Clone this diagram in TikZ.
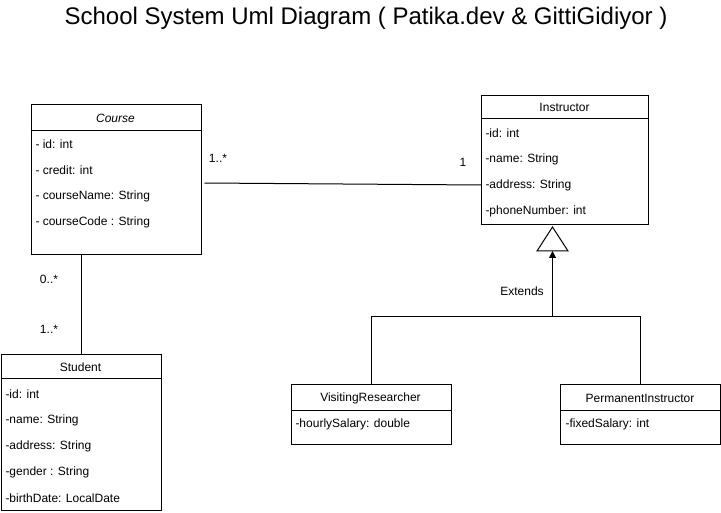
\documentclass[tikz,border=0pt]{standalone}
\usepackage{fontspec}
\setmainfont{Liberation Sans}
\usetikzlibrary{arrows.meta}

\tikzset{
  classbox/.style={draw, anchor=north west, inner sep=0pt},
  attr/.style={anchor=west, inner sep=0pt, font=\fontsize{12}{14}\selectfont},
  ctitle/.style={inner sep=0pt, font=\fontsize{12}{14}\selectfont},
}

\begin{document}
\begin{tikzpicture}[x=1pt,y=-1pt,line width=1pt]
\useasboundingbox (0,0) rectangle (721,513);

\node[font=\fontsize{24}{28}\selectfont] (title) at (366,18) {School System Uml Diagram ( Patika.dev \& GittiGidiyor )};

% Course
\node[classbox, minimum width=170pt, minimum height=150pt] (course) at (30.5,104) {};
\draw ([shift={(0,27)}]course.north west) -- ([shift={(0,27)}]course.north east);
\node[ctitle] (coursename) at (115.5,118) {\itshape Course};
\node[attr] (cid) at (35,144) {- id: int};
\node[attr] (ccredit) at (35,170) {- credit: int};
\node[attr] (cname) at (35,196) {- courseName: String};
\node[attr] (ccode) at (35,222) {- courseCode : String};

% Instructor
\node[classbox, minimum width=167pt, minimum height=129pt] (instr) at (481,95) {};
\draw ([shift={(0,24)}]instr.north west) -- ([shift={(0,24)}]instr.north east);
\node[ctitle] (instrname) at (564.5,107.5) {Instructor};
\node[attr] (iid) at (485,133) {-id: int};
\node[attr] (iname) at (485,159) {-name: String};
\node[attr] (iaddr) at (485,185) {-address: String};
\node[attr] (iphone) at (485,211) {-phoneNumber: int};

% Student
\node[classbox, minimum width=160pt, minimum height=156pt] (student) at (0.5,354) {};
\draw ([shift={(0,25)}]student.north west) -- ([shift={(0,25)}]student.north east);
\node[ctitle] (studentname) at (80.5,367) {Student};
\node[attr] (sid) at (5,394) {-id: int};
\node[attr] (sname) at (5,420) {-name: String};
\node[attr] (saddr) at (5,446) {-address: String};
\node[attr] (sgender) at (5,472) {-gender : String};
\node[attr] (sbirth) at (5,498) {-birthDate: LocalDate};

% VisitingResearcher
\node[classbox, minimum width=160pt, minimum height=60pt] (vr) at (290.5,384) {};
\draw ([shift={(0,26)}]vr.north west) -- ([shift={(0,26)}]vr.north east);
\node[ctitle] (vrname) at (370.5,398) {VisitingResearcher};
\node[attr] (vrsalary) at (295,424) {-hourlySalary: double};

% PermanentInstructor
\node[classbox, minimum width=160pt, minimum height=60pt] (pi) at (560,384) {};
\draw ([shift={(0,26)}]pi.north west) -- ([shift={(0,26)}]pi.north east);
\node[ctitle] (piname) at (640,398) {PermanentInstructor};
\node[attr] (pisalary) at (565,424) {-fixedSalary: int};

% associations
\draw ([shift={(3,79)}]course.north east) -- ([shift={(0,90)}]instr.north west);
\node[ctitle] (mcourse) at (218,158) {1..*};
\node[ctitle] (minstr) at (463,162) {1};

\draw (student.north) -- (student.north |- course.south);
\node[ctitle] (mcs) at (49,279) {0..*};
\node[ctitle] (msc) at (49,329) {1..*};

% inheritance
\draw (vr.north) -- ++(0,-67) -| (pi.north);
\coordinate (tri) at (552.5,251);
\coordinate (ext) at (552.5,317);
\draw (tri) ++(-15.5,0) -- ++(15.5,-24) -- ++(15.5,24) -- cycle;
\draw[-{Triangle[length=7pt,width=7pt]}] (ext) -- (tri);
\node[ctitle] (extends) at (522,291) {Extends};

\end{tikzpicture}
\end{document}
